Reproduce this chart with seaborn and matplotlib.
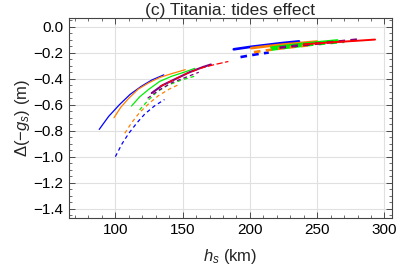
import numpy as np
import pandas as pd
import matplotlib
matplotlib.use("Agg")
import matplotlib.pyplot as plt
import seaborn as sns
from matplotlib.ticker import MultipleLocator

sns.set_theme(style="white")
plt.rcParams['font.family'] = ['Liberation Sans', 'DejaVu Sans']
plt.rcParams['mathtext.fontset'] = 'custom'
plt.rcParams['mathtext.rm'] = 'Liberation Sans'
plt.rcParams['mathtext.it'] = 'Liberation Sans:italic'

# ---- data (h_s in km, Delta(-g_s) in m) ----
# left cluster (thin lines)
blue_sol_x = [88, 95, 103, 111, 119, 127, 136]
blue_sol_y = [-0.79, -0.69, -0.60, -0.52, -0.46, -0.41, -0.37]
orange_sol_x = [99, 104, 110, 117, 125, 133, 142, 152]
orange_sol_y = [-0.70, -0.62, -0.55, -0.48, -0.43, -0.39, -0.36, -0.33]
green_sol_x = [112, 118, 125, 133, 142, 151, 159]
green_sol_y = [-0.61, -0.54, -0.48, -0.42, -0.38, -0.35, -0.32]
purple_sol_x = [127, 135, 145, 155, 165, 171]
purple_sol_y = [-0.51, -0.45, -0.40, -0.35, -0.31, -0.29]
blue_dash_x = [100, 105, 110, 116, 122, 129, 136.5]
blue_dash_y = [-1.00, -0.90, -0.82, -0.74, -0.67, -0.61, -0.56]
orange_dash_x = [107, 112, 118, 125, 132, 140, 148]
orange_dash_y = [-0.82, -0.74, -0.66, -0.59, -0.53, -0.48, -0.44]
green_dash_x = [118, 124, 131, 139, 149, 159]
green_dash_y = [-0.64, -0.57, -0.50, -0.45, -0.41, -0.38]
purple_dash_x = [124, 132, 142, 152, 162]
purple_dash_y = [-0.55, -0.49, -0.43, -0.39, -0.35]
red_dash_x = [133, 143, 153, 163, 174, 184]
red_dash_y = [-0.46, -0.41, -0.36, -0.32, -0.29, -0.267]

# right cluster (thick lines)
blue_sol2_x = [188, 200, 212, 224, 236.5]
blue_sol2_y = [-0.173, -0.155, -0.140, -0.125, -0.112]
orange_sol2_x = [201, 213, 225, 238, 250]
orange_sol2_y = [-0.164, -0.149, -0.136, -0.124, -0.113]
green_sol2_x = [216, 228, 240, 252, 265]
green_sol2_y = [-0.160, -0.145, -0.131, -0.118, -0.105]
red_sol2_x = [240, 253, 266, 280, 293]
red_sol2_y = [-0.135, -0.125, -0.116, -0.107, -0.098]
blue_dash2_x = [193, 200, 207, 214]
blue_dash2_y = [-0.233, -0.220, -0.208, -0.198]
orange_dash2_x = [203, 213, 224, 235, 246]
orange_dash2_y = [-0.195, -0.180, -0.165, -0.152, -0.140]
green_dash2_x = [216, 229, 242, 256, 270]
green_dash2_y = [-0.175, -0.158, -0.142, -0.128, -0.115]
purple_dash2_x = [222, 237, 252, 268, 283]
purple_dash2_y = [-0.160, -0.143, -0.127, -0.111, -0.095]

title = "(c) Titania: tides effect"
xlabel = r"$h_s$ (km)"
ylabel = r"$\Delta(-g_s)$ (m)"
xticks = [100, 150, 200, 250, 300]
yticks = [0.0, -0.2, -0.4, -0.6, -0.8, -1.0, -1.2, -1.4]

BLUE = "#0000ff"
ORANGE = "#ff8000"
GREEN = "#00ee00"
PURPLE = "#800080"
RED = "#ff0000"

fig = plt.figure(figsize=(4.0, 2.73), dpi=100)
ax = fig.add_axes([0.172, 0.2026, 0.807, 0.7324])

def draw(x, y, color, lw, dashes=None):
    df = pd.DataFrame({"x": x, "y": y})
    l = sns.lineplot(data=df, x="x", y="y", ax=ax, color=color, lw=lw, sort=True)
    line = l.lines[-1]
    if dashes is not None:
        line.set_dashes(dashes)
    return line

thin = 0.9
thick = 1.9
draw(blue_sol_x, blue_sol_y, BLUE, thin)
draw(orange_sol_x, orange_sol_y, ORANGE, thin)
draw(green_sol_x, green_sol_y, GREEN, thin)
draw(blue_dash_x, blue_dash_y, BLUE, thin, (3, 2.5))
draw(orange_dash_x, orange_dash_y, ORANGE, thin, (3, 2.5))
draw(green_dash_x, green_dash_y, GREEN, thin, (3, 2.5))
draw(purple_dash_x, purple_dash_y, PURPLE, thin, (3, 2.5))
draw(purple_sol_x, purple_sol_y, PURPLE, 1.5)
draw(red_dash_x, red_dash_y, RED, thin, (5, 2))

draw(blue_sol2_x, blue_sol2_y, BLUE, thick)
draw(orange_sol2_x, orange_sol2_y, ORANGE, thick)
draw(green_sol2_x, green_sol2_y, GREEN, thick)
draw(blue_dash2_x, blue_dash2_y, BLUE, thick, (2.5, 2))
draw(orange_dash2_x, orange_dash2_y, ORANGE, thick, (2.5, 2))
draw(green_dash2_x, green_dash2_y, GREEN, thick, (2.5, 2))
draw(purple_dash2_x, purple_dash2_y, PURPLE, thick, (2.5, 2))
draw(red_sol2_x, red_sol2_y, RED, 1.4)

ax.set_xlim(65.4, 305.3)
ax.set_ylim(-1.47, 0.07)
ax.set_xticks(xticks)
ax.set_yticks(yticks)
ax.set_yticklabels([f"{v:.1f}".replace("-", "\u2212") for v in yticks])
ax.xaxis.set_minor_locator(MultipleLocator(10))
ax.yaxis.set_minor_locator(MultipleLocator(0.05))
ax.grid(True, which="major", color="#e0e0e0", lw=0.8)
ax.tick_params(which="both", direction="in", top=True, right=True, bottom=True, left=True,
               labelsize=11, colors="#333333", labelcolor="black", pad=4)
ax.tick_params(which="major", length=4, width=0.6)
ax.tick_params(which="minor", length=2, width=0.5)
for s in ax.spines.values():
    s.set_color("#444444")
    s.set_linewidth(0.8)
ax.set_xlabel(xlabel, fontsize=12, labelpad=7)
ax.set_ylabel(ylabel, fontsize=12, labelpad=1)
ax.set_title(title, fontsize=12.5, pad=0)

fig.savefig("out.png", dpi=100)
